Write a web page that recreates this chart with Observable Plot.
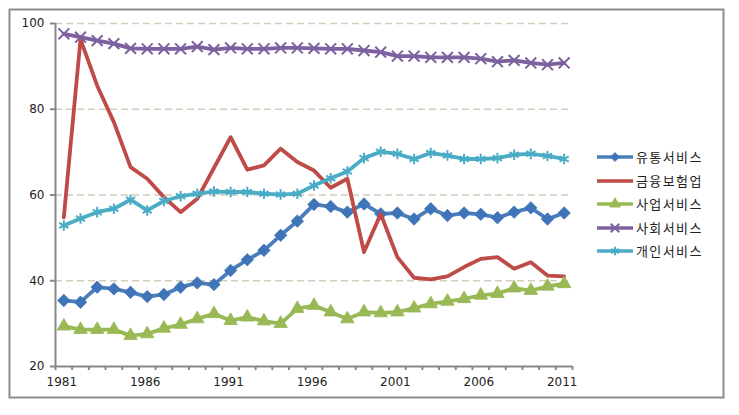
<!DOCTYPE html>
<html><head><meta charset="utf-8">
<script src="https://cdn.jsdelivr.net/npm/d3@7"></script>
<script src="https://cdn.jsdelivr.net/npm/@observablehq/plot@0.6"></script>
<style>body{margin:0;background:#fff} #chart svg{display:block}</style>
</head><body><div id="chart"></div>
<script>
const years = [1981,1982,1983,1984,1985,1986,1987,1988,1989,1990,1991,1992,1993,1994,1995,1996,1997,1998,1999,2000,2001,2002,2003,2004,2005,2006,2007,2008,2009,2010,2011];
const seriesNames = ["유통서비스","금융보험업","사업서비스","사회서비스","개인서비스"];
const distribution = [35.4,35.0,38.5,38.1,37.3,36.3,36.8,38.5,39.5,39.1,42.4,44.9,47.1,50.6,53.9,57.8,57.3,56.0,57.9,55.6,55.8,54.4,56.8,55.2,55.8,55.5,54.7,56.0,57.0,54.4,55.8];
const finance = [54.8,96.3,85.5,77.0,66.5,63.8,59.5,56.0,59.1,66.3,73.5,65.9,66.9,70.8,67.7,65.7,61.7,63.8,46.7,55.6,45.5,40.7,40.3,41.0,43.2,45.1,45.5,42.8,44.3,41.2,41.0];
const business = [29.4,28.6,28.6,28.6,27.2,27.6,28.9,29.8,31.1,32.3,30.7,31.5,30.6,30.0,33.5,34.2,32.7,31.1,32.7,32.5,32.7,33.6,34.6,35.2,35.8,36.6,37.0,38.3,37.7,38.7,39.3];
const social = [97.6,96.8,96.0,95.3,94.2,94.1,94.1,94.1,94.6,93.9,94.3,94.1,94.1,94.3,94.3,94.2,94.1,94.1,93.7,93.3,92.4,92.4,92.1,92.1,92.1,91.8,91.1,91.4,90.8,90.4,90.8];
const personal = [52.9,54.5,56.0,56.8,58.9,56.4,58.6,59.7,60.3,60.8,60.7,60.7,60.3,60.1,60.3,62.2,63.9,65.5,68.6,70.1,69.6,68.4,69.8,69.2,68.4,68.4,68.6,69.4,69.6,69.1,68.4];
const yTicks = [20,40,60,80,100];
const gridValues = [40,60,80,100];
const xTickLabels = [1981,1986,1991,1996,2001,2006,2011];

const colors = ["#4A7EBB","#BE4B48","#98B954","#7D60A0","#4BACC6"];
const markerColors = ["#3F74B8","#BE4B48","#98B954","#7D60A0","#4BACC6"];
const symbols = ["diamond2", null, "triangle", "times", "asterisk"];
const valueArrays = [distribution, finance, business, social, personal];
const rows = seriesNames.flatMap((name, i) => years.map((yr, j) => ({series: name, year: yr, value: valueArrays[i][j]})));
const boundaries = [...years.map(y => y - 0.5), years[years.length - 1] + 0.5];

const axisColor = "#878787";
const marks = [
  Plot.ruleY(gridValues, {stroke: "#D3CDBC", strokeWidth: 1.3, strokeDasharray: "7,4"})
];
seriesNames.forEach((name, i) => {
  const d = rows.filter(r => r.series === name);
  marks.push(Plot.line(d, {x: "year", y: "value", stroke: colors[i], strokeWidth: 3.8}));
  const s = symbols[i];
  if (s) {
    const filled = s === "diamond2" || s === "triangle";
    marks.push(Plot.dot(d, filled
      ? {x: "year", y: "value", symbol: s, r: s === "diamond2" ? 5.6 : 5, fill: markerColors[i], stroke: markerColors[i], strokeWidth: 0.8}
      : {x: "year", y: "value", symbol: s, r: 5, stroke: markerColors[i], strokeWidth: 2}));
  }
});
marks.push(
  Plot.ruleY([yTicks[0]], {stroke: axisColor, strokeWidth: 2}),
  Plot.ruleX([boundaries[0]], {stroke: axisColor, strokeWidth: 2}),
  Plot.axisY(yTicks, {tickSize: 5, tickPadding: 6, stroke: axisColor, strokeWidth: 2, fill: "#222", fontSize: 12, label: null, tickFormat: d => String(d)}),
  Plot.axisX(boundaries, {tickSize: 4, stroke: axisColor, strokeWidth: 2, label: null, tickFormat: () => ""}),
  Plot.axisX(xTickLabels, {tickSize: 0, tickPadding: 11, dx: -2, fill: "#222", fontSize: 12, label: null, tickFormat: d => String(d)})
);

const chart = Plot.plot({
  width: 739, height: 415,
  marginLeft: 55, marginRight: 167, marginTop: 23, marginBottom: 49,
  style: {fontFamily: "DejaVu Sans", fontSize: "12px", background: "#fff", overflow: "visible"},
  x: {domain: [boundaries[0], boundaries[boundaries.length - 1]], label: null},
  y: {domain: [yTicks[0], yTicks[yTicks.length - 1]], label: null},
  marks
});

// outer chart border and legend
const svg = d3.select(chart);
const lg = svg.append("g").attr("text-anchor", "start");
const rowY = [157, 181, 204, 228, 251];
const symMap = {diamond2: d3.symbolDiamond2, triangle: d3.symbolTriangle, times: d3.symbolTimes, asterisk: d3.symbolAsterisk};
seriesNames.forEach((name, i) => {
  const g = lg.append("g").attr("transform", `translate(0,${rowY[i]})`);
  g.append("line").attr("x1", 597).attr("x2", 633).attr("y1", 0).attr("y2", 0)
    .attr("stroke", colors[i]).attr("stroke-width", 3.5);
  const s = symbols[i];
  if (s) {
    const filled = s === "diamond2" || s === "triangle";
    g.append("path").attr("transform", "translate(615,0)")
      .attr("d", d3.symbol(symMap[s], 50)())
      .attr("fill", filled ? markerColors[i] : "none").attr("stroke", markerColors[i]).attr("stroke-width", filled ? 0.8 : 2);
  }
  g.append("text").attr("x", 636).attr("y", 0).attr("dy", "0.36em").attr("text-anchor", "start")
    .attr("font-family", "'Noto Sans CJK KR'").attr("font-size", 13).attr("letter-spacing", 1.4)
    .attr("fill", "#222").text(name);
});
svg.append("rect").attr("x", 9.5).attr("y", 9.5).attr("width", 714).attr("height", 388)
  .attr("fill", "none").attr("stroke", "#8C8C8C").attr("stroke-width", 2);
document.getElementById("chart").appendChild(chart);
</script>
</body></html>
